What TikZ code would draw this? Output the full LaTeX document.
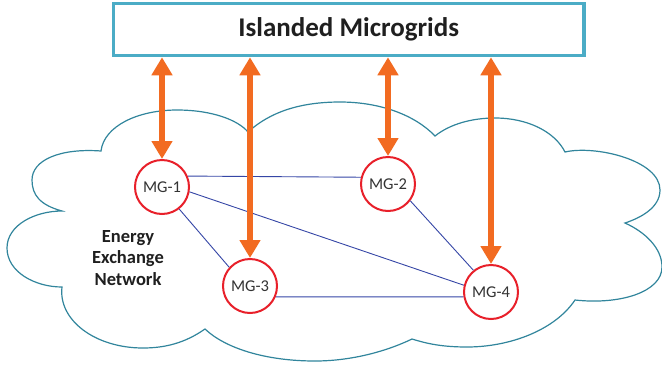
\documentclass[tikz,border=0pt]{standalone}
\usepackage{fontspec}
\setmainfont{Carlito}
\usetikzlibrary{arrows.meta}
\definecolor{boxteal}{HTML}{4BACC6}
\definecolor{cloudteal}{HTML}{31859C}
\definecolor{mgred}{HTML}{E8202A}
\definecolor{arrorange}{HTML}{F26B21}
\definecolor{edgeblue}{HTML}{3546A6}
\definecolor{txtgray}{HTML}{333333}
\tikzset{
  mgnode/.style={circle, draw=mgred, line width=2pt, fill=white, minimum size=54pt, inner sep=0pt,
    font=\fontsize{16.5}{19}\selectfont, text=txtgray},
  titlebox/.style={draw=boxteal, line width=3.5pt, fill=white, minimum width=470.5pt, minimum height=52pt,
    inner sep=0pt, font=\fontsize{27}{31}\selectfont\bfseries, text=black!88},
  cloudline/.style={draw=cloudteal, line width=1.2pt},
  link/.style={draw=edgeblue, line width=0.9pt},
  twoway/.style={draw=arrorange, line width=6.5pt,
    {Triangle[width=20pt,length=18pt]}-{Triangle[width=20pt,length=18pt]}, shorten <=0pt, shorten >=0pt},
}
\begin{document}
\begin{tikzpicture}[x=1pt,y=-1pt]
\useasboundingbox (0,0) rectangle (662,368);
% cloud
\draw[cloudline, fill=white]
  (101,151) .. controls (104,126) and (138,110) .. (177,110)
            .. controls (212,110) and (238,120) .. (248,132)
            .. controls (270,112) and (300,102) .. (340,102)
            .. controls (380,102) and (415,115) .. (435,136)
            .. controls (450,124) and (472,118) .. (495,118)
            .. controls (528,118) and (555,132) .. (565,152)
            .. controls (595,145) and (660,160) .. (660,190)
            .. controls (660,208) and (640,218) .. (625,223)
            .. controls (645,232) and (662,248) .. (662,267)
            .. controls (662,292) and (620,305) .. (575,300)
            .. controls (555,330) and (510,347) .. (467,347)
            .. controls (440,347) and (425,343) .. (412,339)
            .. controls (385,352) and (350,361) .. (315,361)
            .. controls (265,361) and (225,348) .. (205,329)
            .. controls (185,343) and (165,348) .. (143,348)
            .. controls (95,348) and (58,320) .. (62,287)
            .. controls (35,287) and (7,272) .. (7,248)
            .. controls (7,225) and (35,211) .. (62,211)
            .. controls (40,205) and (32,195) .. (32,180)
            .. controls (32,160) and (60,148) .. (101,151) -- cycle;
% title box
\node[titlebox] (box) at (348.75,29.5) {Islanded Microgrids};
% microgrids
\node[mgnode] (mg1) at (162,187) {MG-1};
\node[mgnode] (mg2) at (388,184) {MG-2};
\node[mgnode] (mg3) at (250,286) {MG-3};
\node[mgnode] (mg4) at (491,292) {MG-4};
% label
\node[font=\fontsize{18.5}{21.5}\selectfont\bfseries, align=center, text=black!88] (een) at (128,258)
  {Energy\\Exchange\\Network};
% links
\draw[link] (mg1.23) -- (mg2.166);
\draw[link] (mg1.-10) -- (mg4.166);
\draw[link] (mg1.-52) -- (mg3.138);
\draw[link] (mg2.-37) -- (mg4.129);
\draw[link] (mg3.-23) -- (mg4.190);
% arrows
\draw[twoway] (box.south -| mg1) -- (mg1.north);
\draw[twoway] (box.south -| mg3) -- (mg3.north);
\draw[twoway] (box.south -| mg2) -- (mg2.north);
\draw[twoway] (box.south -| mg4) -- (mg4.north);
\end{tikzpicture}
\end{document}
